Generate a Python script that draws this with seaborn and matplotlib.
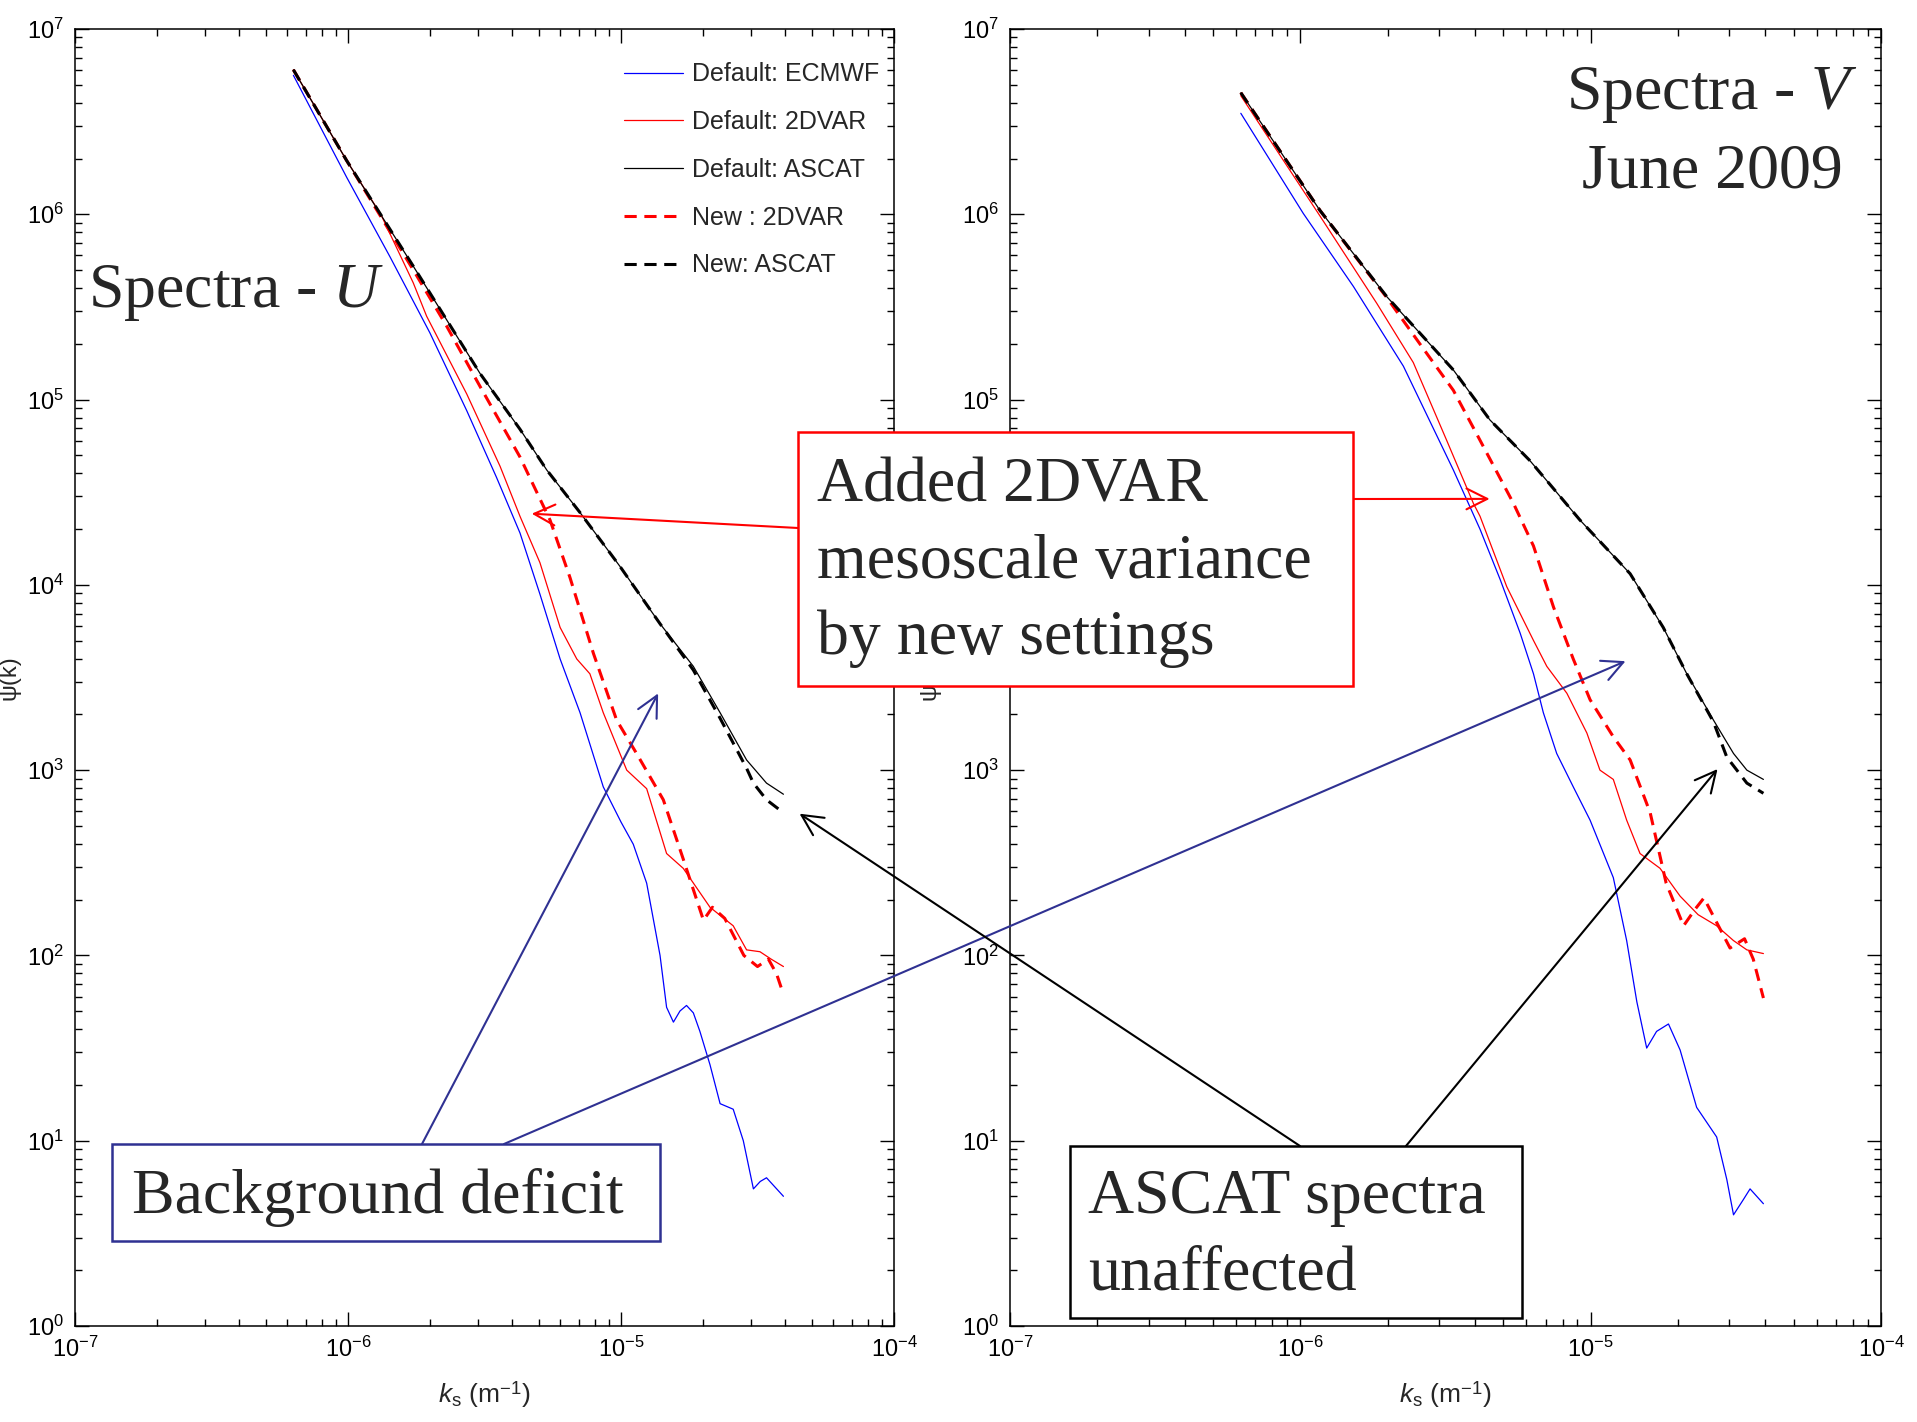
import numpy as np
import matplotlib
matplotlib.use("Agg")
import matplotlib.pyplot as plt
import seaborn as sns
from matplotlib.patches import Rectangle
from matplotlib.ticker import LogLocator, NullFormatter

# ---- data (log10 values) ----
# U component
u_ecmwf_logk = [-6.20, -6.005, -5.846, -5.70, -5.565, -5.456, -5.37, -5.297, -5.223, -5.15, -5.065,
                -5.00, -4.955, -4.906, -4.857, -4.833, -4.808, -4.784, -4.760, -4.735, -4.711,
                -4.674, -4.637, -4.589, -4.552, -4.515, -4.49, -4.467, -4.405]
u_ecmwf_logpsi = [6.75, 6.20, 5.77, 5.36, 4.94, 4.58, 4.28, 3.95, 3.60, 3.31, 2.91,
                  2.72, 2.60, 2.39, 2.00, 1.72, 1.64, 1.70, 1.73, 1.69, 1.59,
                  1.41, 1.20, 1.17, 1.00, 0.74, 0.78, 0.80, 0.70]

u_2dvar_logk = [-6.20, -6.005, -5.88, -5.761, -5.712, -5.565, -5.443, -5.37, -5.297, -5.223,
                -5.162, -5.114, -5.065, -5.004, -4.979, -4.906, -4.833, -4.772, -4.674, -4.589,
                -4.540, -4.491, -4.45, -4.405]
u_2dvar_logpsi = [6.78, 6.29, 6.00, 5.63, 5.45, 5.03, 4.64, 4.37, 4.12, 3.77,
                  3.60, 3.52, 3.31, 3.09, 3.00, 2.90, 2.55, 2.47, 2.26, 2.16,
                  2.03, 2.02, 1.98, 1.94]

u_ascat_logk = [-6.20, -6.005, -5.761, -5.516, -5.37, -5.272, -5.15, -5.004, -4.857, -4.735,
                -4.637, -4.540, -4.467, -4.405]
u_ascat_logpsi = [6.78, 6.29, 5.72, 5.14, 4.84, 4.62, 4.39, 4.10, 3.79, 3.56,
                  3.31, 3.055, 2.93, 2.87]

u_new2dvar_logk = [-6.20, -6.005, -5.761, -5.64, -5.516, -5.37, -5.26, -5.187, -5.101, -5.016,
                   -4.943, -4.845, -4.772, -4.698, -4.665, -4.62, -4.55, -4.50, -4.46, -4.43, -4.405]
u_new2dvar_logpsi = [6.78, 6.29, 5.70, 5.40, 5.07, 4.69, 4.35, 4.04, 3.63, 3.27,
                     3.09, 2.84, 2.52, 2.19, 2.26, 2.20, 2.00, 1.94, 1.98, 1.90, 1.79]

u_newascat_logk = [-6.20, -6.005, -5.761, -5.516, -5.37, -5.272, -5.15, -5.004, -4.857, -4.735,
                   -4.637, -4.540, -4.515, -4.467, -4.405]
u_newascat_logpsi = [6.78, 6.29, 5.72, 5.14, 4.84, 4.62, 4.39, 4.10, 3.79, 3.54,
                     3.28, 3.01, 2.93, 2.84, 2.77]

# V component
v_ecmwf_logk = [-6.205, -5.99, -5.817, -5.645, -5.473, -5.381, -5.312, -5.243, -5.197, -5.163,
                -5.117, -5.06, -5.002, -4.922, -4.876, -4.841, -4.807, -4.773, -4.732, -4.692,
                -4.635, -4.566, -4.531, -4.508, -4.475, -4.451, -4.405]
v_ecmwf_logpsi = [6.545, 6.005, 5.61, 5.18, 4.62, 4.30, 4.03, 3.74, 3.52, 3.31,
                  3.09, 2.91, 2.73, 2.42, 2.08, 1.75, 1.50, 1.59, 1.63, 1.49,
                  1.18, 1.02, 0.79, 0.60, 0.68, 0.74, 0.66]

v_2dvar_logk = [-6.205, -5.932, -5.737, -5.611, -5.496, -5.404, -5.381, -5.289, -5.197, -5.151,
                -5.082, -5.013, -4.968, -4.922, -4.876, -4.830, -4.761, -4.692, -4.63, -4.566,
                -4.508, -4.462, -4.405]
v_2dvar_logpsi = [6.64, 5.99, 5.52, 5.20, 4.78, 4.44, 4.37, 3.99, 3.70, 3.56,
                  3.415, 3.20, 3.00, 2.95, 2.73, 2.55, 2.47, 2.32, 2.22, 2.16,
                  2.08, 2.03, 2.01]

v_ascat_logk = [-6.205, -5.932, -5.702, -5.473, -5.347, -5.209, -5.037, -4.864, -4.75, -4.669,
                -4.577, -4.508, -4.462, -4.405]
v_ascat_logpsi = [6.656, 6.02, 5.555, 5.16, 4.89, 4.67, 4.35, 4.06, 3.77, 3.52,
                  3.27, 3.09, 3.00, 2.95]

v_new2dvar_logk = [-6.205, -5.932, -5.702, -5.588, -5.473, -5.381, -5.266, -5.197, -5.128, -5.06,
                   -5.002, -4.922, -4.864, -4.795, -4.74, -4.68, -4.64, -4.61, -4.57, -4.52,
                   -4.47, -4.44, -4.405]
v_new2dvar_logpsi = [6.656, 6.02, 5.55, 5.30, 5.05, 4.78, 4.44, 4.21, 3.88, 3.60,
                     3.38, 3.18, 3.055, 2.77, 2.39, 2.16, 2.25, 2.31, 2.19, 2.04,
                     2.09, 1.98, 1.77]

v_newascat_logk = [-6.205, -5.932, -5.702, -5.473, -5.347, -5.209, -5.037, -4.864, -4.75, -4.669,
                   -4.577, -4.531, -4.462, -4.405]
v_newascat_logpsi = [6.656, 6.02, 5.555, 5.16, 4.89, 4.67, 4.35, 4.06, 3.77, 3.52,
                     3.26, 3.07, 2.93, 2.875]

labels = ['Default: ECMWF', 'Default: 2DVAR', 'Default: ASCAT', 'New : 2DVAR', 'New: ASCAT']
colors = ['#0000FF', '#FF0000', '#000000', '#FF0000', '#000000']
widths = [0.9, 0.9, 0.9, 2.2, 2.2]
styles = ['-', '-', '-', (0, (4, 2.5)), (0, (4, 2.5))]

u_series = [(u_ecmwf_logk, u_ecmwf_logpsi), (u_2dvar_logk, u_2dvar_logpsi), (u_ascat_logk, u_ascat_logpsi),
            (u_new2dvar_logk, u_new2dvar_logpsi), (u_newascat_logk, u_newascat_logpsi)]
v_series = [(v_ecmwf_logk, v_ecmwf_logpsi), (v_2dvar_logk, v_2dvar_logpsi), (v_ascat_logk, v_ascat_logpsi),
            (v_new2dvar_logk, v_new2dvar_logpsi), (v_newascat_logk, v_newascat_logpsi)]

# ---- style ----
sns.set_style("ticks")
plt.rcParams['font.family'] = ['Liberation Sans', 'DejaVu Sans']
plt.rcParams['mathtext.fontset'] = 'custom'
plt.rcParams['mathtext.rm'] = 'Liberation Serif'
plt.rcParams['mathtext.it'] = 'Liberation Serif:italic'
plt.rcParams['mathtext.sf'] = 'Liberation Sans:italic'

W, H = 1917, 1422
fig = plt.figure(figsize=(W / 100, H / 100), dpi=100)
ax1 = fig.add_axes([75 / W, 1 - 1326 / H, 819 / W, 1297 / H])
ax2 = fig.add_axes([1010 / W, 1 - 1326 / H, 871 / W, 1297 / H])

for ax, series in [(ax1, u_series), (ax2, v_series)]:
    ax.set_xscale('log')
    ax.set_yscale('log')
    for (lk, lp), lab, c, lw, ls in zip(series, labels, colors, widths, styles):
        sns.lineplot(x=10 ** np.array(lk), y=10 ** np.array(lp), ax=ax, color=c, lw=lw,
                     linestyle=ls, label=lab, sort=False, estimator=None)
    ax.set_xlim(1e-7, 1e-4)
    ax.set_ylim(1, 1e7)
    ax.set_xticks([1e-7, 1e-6, 1e-5, 1e-4])
    ax.set_yticks([10.0 ** i for i in range(8)])
    ax.xaxis.set_minor_locator(LogLocator(base=10, subs=np.arange(2, 10), numticks=20))
    ax.yaxis.set_minor_locator(LogLocator(base=10, subs=np.arange(2, 10), numticks=20))
    ax.xaxis.set_minor_formatter(NullFormatter())
    ax.yaxis.set_minor_formatter(NullFormatter())
    ax.tick_params(which='both', direction='in', top=True, right=True, colors='black',
                   labelsize=17)
    ax.tick_params(which='major', length=10, width=1.0, pad=8)
    ax.tick_params(which='minor', length=5, width=1.0)
    for sp in ax.spines.values():
        sp.set_linewidth(1.1)
        sp.set_color('black')
    ax.set_ylabel('ψ(k)', fontsize=17)
    ax.set_xlabel(r'$\mathsf{k}_{\mathdefault{s}}$ (m$^{\mathdefault{-1}}$)', fontsize=19)
    ax.xaxis.set_label_coords(0.5, -0.041)

ax1.yaxis.set_label_coords(-0.066, 0.5)
ax2.yaxis.set_label_coords(-0.080, 0.5)

ax2.get_legend().remove()
ax1.legend(loc='upper left', bbox_to_anchor=(0.655, 0.984), frameon=False, fontsize=18,
           borderpad=0, handlelength=2.36, handletextpad=0.36, labelspacing=0.95)

# ---- annotation overlay in figure pixels ----
ov = fig.add_axes([0, 0, 1, 1])
ov.set_xlim(0, W)
ov.set_ylim(H, 0)
ov.axis('off')
ov.patch.set_alpha(0)

serif = dict(family='Liberation Serif', fontsize=46, va='baseline')
ov.text(88, 307, r'Spectra - $\mathit{U}$', ha='left', **serif)
ov.text(1712, 109, r'Spectra - $\mathit{V}$', ha='center', **serif)
ov.text(1712, 187, 'June 2009', ha='center', **serif)

navy = '#2F3192'
boxes = [((798, 432), 555, 254, '#FF0000'),
         ((112, 1144), 548, 97, navy),
         ((1070, 1146), 452, 172, '#000000')]
for (x0, y0), bw, bh, ec in boxes:
    ov.add_patch(Rectangle((x0, y0), bw, bh, facecolor='white', edgecolor=ec, lw=1.8, zorder=3))

for y, s in zip([502, 578, 654], ['Added 2DVAR', 'mesoscale variance', 'by new settings']):
    ov.text(817, y, s, ha='left', zorder=4, **serif)
ov.text(132, 1213, 'Background deficit', ha='left', zorder=4, **serif)
for y, s in zip([1213, 1290], ['ASCAT spectra', 'unaffected']):
    ov.text(1088, y, s, ha='left', zorder=4, **serif)

arrows = [((798, 528), ax1, (10 ** -5.327, 10 ** 4.384), '#FF0000'),
          ((1353, 499), ax2, (10 ** -5.348, 10 ** 4.464), '#FF0000'),
          ((422, 1144), ax1, (10 ** -4.864, 10 ** 3.414), navy),
          ((504, 1144), ax2, (10 ** -4.880, 10 ** 3.588), navy),
          ((1300, 1146), ax1, (10 ** -4.346, 10 ** 2.765), '#000000'),
          ((1406, 1146), ax2, (10 ** -4.563, 10 ** 3.006), '#000000')]
for start, tax, target, c in arrows:
    ov.annotate('', xy=target, xycoords=tax.transData, xytext=start, textcoords='data',
                arrowprops=dict(arrowstyle='->,head_length=0.6,head_width=0.3', color=c, lw=1.5,
                                shrinkA=0, shrinkB=0, mutation_scale=25), zorder=2)

fig.savefig('out.png', dpi=100, facecolor='white')
